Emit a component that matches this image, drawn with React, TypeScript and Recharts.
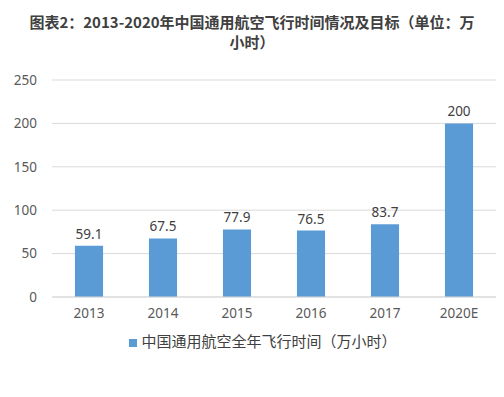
import React from "react";
import {
  BarChart,
  Bar,
  XAxis,
  YAxis,
  CartesianGrid,
  Legend,
  LabelList,
} from "recharts";

const years = ["2013", "2014", "2015", "2016", "2017", "2020E"];
const hours = [59.1, 67.5, 77.9, 76.5, 83.7, 200];
const yTicks = [0, 50, 100, 150, 200, 250];

const seriesName = "中国通用航空全年飞行时间（万小时）";
const font = '"Noto Sans", "Noto Sans CJK SC", sans-serif';

const data = years.map((year, i) => ({ year, hours: hours[i] }));

export default function App() {
  return (
    <div
      style={{
        position: "fixed",
        left: 0,
        top: 0,
        width: 504,
        height: 397,
        background: "#fff",
        fontFamily: font,
      }}
    >
      <div
        style={{
          position: "absolute",
          top: 12,
          left: 0,
          width: 504,
          textAlign: "center",
          fontFamily: '"Noto Sans CJK SC", sans-serif',
          fontWeight: 700,
          fontSize: 15,
          lineHeight: "20px",
          color: "#404040",
        }}
      >
        图表2：2013-2020年中国通用航空飞行时间情况及目标（单位：万
        <br />
        小时）
      </div>
      <BarChart
        width={504}
        height={397}
        data={data}
        margin={{ top: 80, right: 8, left: 0, bottom: 46 }}
        barCategoryGap="69%"
      >
        <CartesianGrid vertical={false} stroke="#d9d9d9" />
        <XAxis
          dataKey="year"
          tickLine={false}
          axisLine={{ stroke: "#d9d9d9" }}
          tick={{ fill: "#595959", fontSize: 13.5, fontFamily: font }}
          tickMargin={5}
          height={33}
        />
        <YAxis
          ticks={yTicks}
          domain={[0, 250]}
          width={52}
          axisLine={false}
          tickLine={false}
          tickMargin={9}
          tick={{ fill: "#595959", fontSize: 13.5, fontFamily: font }}
        />
        <Legend
          verticalAlign="bottom"
          iconType="square"
          iconSize={8}
          wrapperStyle={{
            left: 20,
            fontSize: 15,
            fontFamily: '"Noto Sans CJK SC", sans-serif',
          }}
          formatter={(v) => <span style={{ color: "#404040" }}>{v}</span>}
        />
        <Bar
          dataKey="hours"
          name={seriesName}
          fill="#5b9bd5"
          isAnimationActive={false}
        >
          <LabelList
            dataKey="hours"
            position="top"
            offset={7}
            fill="#404040"
            fontSize={13.5}
            fontFamily={font}
          />
        </Bar>
      </BarChart>
    </div>
  );
}
